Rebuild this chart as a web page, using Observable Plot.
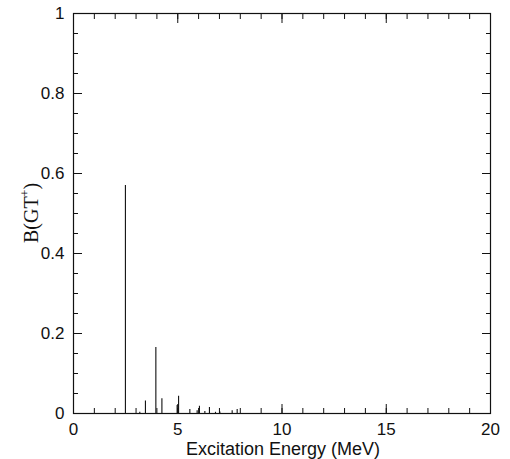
<!DOCTYPE html>
<html>
<head>
<meta charset="utf-8">
<script src="https://cdn.jsdelivr.net/npm/d3@7"></script>
<script src="https://cdn.jsdelivr.net/npm/@observablehq/plot@0.6"></script>
<style>
  body { margin: 0; background: #fff; }
  #chart svg { display: block; }
</style>
</head>
<body>
<div id="chart"></div>
<script>
// Excitation energies (MeV) and B(GT+) strengths
const energies = [2.49, 3.18, 3.45, 3.95, 4.24, 4.97, 5.04, 5.58, 5.93, 6.04, 6.30, 6.52, 6.81, 7.02, 7.61, 7.85];
const strengths = [0.57, 0.003, 0.031, 0.165, 0.037, 0.02, 0.043, 0.01, 0.007, 0.018, 0.005, 0.015, 0.003, 0.004, 0.007, 0.01];
const xMajor = [0, 5, 10, 15, 20];
const xMinor = d3.range(0, 21, 1);
const yMajor = [0, 0.2, 0.4, 0.6, 0.8, 1];
const yMinor = d3.range(0, 1.001, 0.05);
const xLabel = "Excitation Energy (MeV)";

const data = energies.map((e, i) => ({e, b: strengths[i]}));
const font = "'Liberation Sans', Arial, Helvetica, sans-serif";

const plot = Plot.plot({
  width: 510,
  height: 459,
  marginLeft: 73,
  marginRight: 20,
  marginTop: 13,
  marginBottom: 46,
  style: {fontFamily: font, fontSize: "17px", color: "#111", background: "#fff"},
  x: {domain: [0, 20]},
  y: {domain: [0, 1]},
  marks: [
    Plot.frame({stroke: "#111", strokeWidth: 1.2}),
    Plot.ruleX(data, {x: "e", y1: 0, y2: "b", stroke: "#111", strokeWidth: 1.1}),
    Plot.axisX({anchor: "bottom", ticks: xMinor, tickSize: -5, tickFormat: () => "", label: null, stroke: "#111"}),
    Plot.axisX({anchor: "bottom", ticks: xMajor, tickSize: -9, tickPadding: 18, tickFormat: d => String(d), label: null, stroke: "#111", fill: "#111"}),
    Plot.axisX({anchor: "top", ticks: xMinor, tickSize: -5, tickFormat: () => "", label: null, stroke: "#111"}),
    Plot.axisX({anchor: "top", ticks: xMajor, tickSize: -9, tickFormat: () => "", label: null, stroke: "#111"}),
    Plot.axisY({anchor: "left", ticks: yMinor, tickSize: -5, tickFormat: () => "", label: null, stroke: "#111"}),
    Plot.axisY({anchor: "left", ticks: yMajor, tickSize: -9, tickPadding: 18, tickFormat: d => String(d), label: null, stroke: "#111", fill: "#111"}),
    Plot.axisY({anchor: "right", ticks: yMinor, tickSize: -5, tickFormat: () => "", label: null, stroke: "#111"}),
    Plot.axisY({anchor: "right", ticks: yMajor, tickSize: -9, tickFormat: () => "", label: null, stroke: "#111"})
  ]
});

const svg = d3.select(plot);
svg.append("text")
  .attr("x", 283).attr("y", 455)
  .attr("text-anchor", "middle")
  .attr("font-family", font).attr("font-size", 18).attr("fill", "#111")
  .text(xLabel);

const yl = svg.append("text")
  .attr("transform", "translate(38,213) rotate(-90)")
  .attr("text-anchor", "middle")
  .attr("font-family", "'Liberation Serif', 'Times New Roman', serif")
  .attr("font-size", 20).attr("fill", "#111");
yl.append("tspan").text("B(GT");
yl.append("tspan").attr("dy", -9).attr("font-size", 12).text("+");
yl.append("tspan").attr("dy", 9).text(")");

document.getElementById("chart").appendChild(plot);
</script>
</body>
</html>
